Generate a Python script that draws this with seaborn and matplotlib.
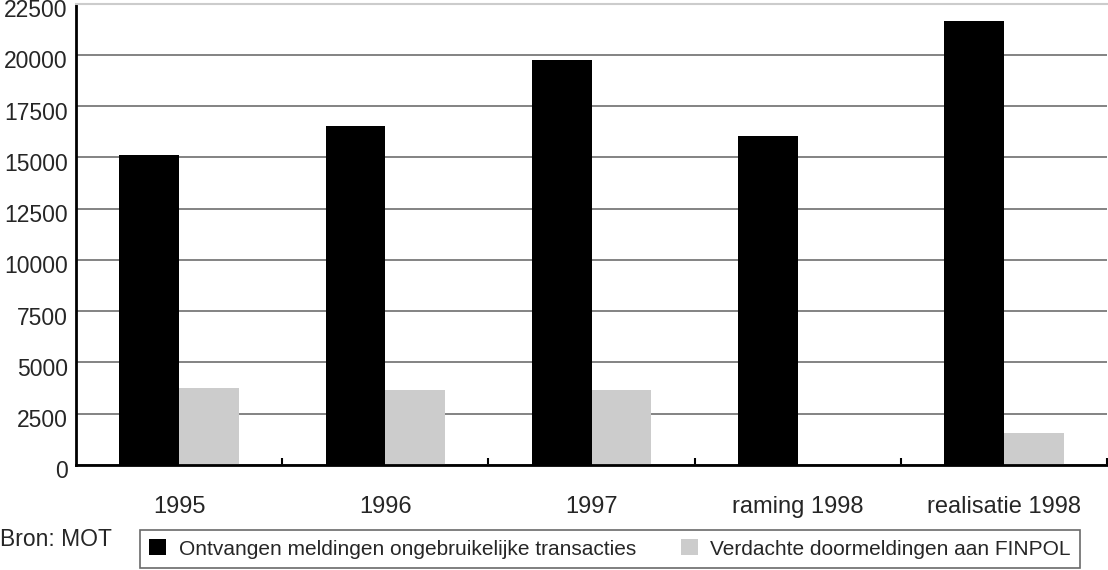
import matplotlib
matplotlib.use("Agg")
import matplotlib.pyplot as plt
import matplotlib.transforms as mtransforms
from matplotlib.ticker import FixedLocator
import seaborn as sns
import pandas as pd

categories = ["1995", "1996", "1997", "raming 1998", "realisatie 1998"]
ontvangen = [15100, 16550, 19750, 16050, 21650]
verdacht = [3730, 3670, 3660, 0, 1550]
series_names = ["Ontvangen meldingen ongebruikelijke transacties",
                "Verdachte doormeldingen aan FINPOL"]
yticks = [0, 2500, 5000, 7500, 10000, 12500, 15000, 17500, 20000, 22500]

df = pd.DataFrame({
    "categorie": categories * 2,
    "waarde": ontvangen + verdacht,
    "reeks": [series_names[0]] * len(categories) + [series_names[1]] * len(categories),
})

sns.set_theme(style="white")
plt.rcParams["font.family"] = ["Liberation Sans", "DejaVu Sans"]

fig = plt.figure(figsize=(11.08, 5.70), dpi=100)
ax = fig.add_axes([76 / 1108, 1 - 465 / 570, 1031 / 1108, 461.5 / 570])

sns.barplot(data=df, x="categorie", y="waarde", hue="reeks",
            palette=["#000000", "#cccccc"], width=0.58, errorbar=None,
            saturation=1, linewidth=0, ax=ax, legend=True)

ax.set_ylim(0, 22500)
ax.set_xlim(-0.5, len(categories) - 0.5)
ax.set_yticks(yticks)
ax.set_yticklabels([str(v) for v in yticks], fontsize=16.5)
ax.tick_params(axis="y", length=0, pad=6)
ax.tick_params(axis="x", which="major", length=0, pad=22, labelsize=17)
ax.xaxis.set_minor_locator(FixedLocator([i + 0.5 for i in range(len(categories))]))
ax.tick_params(axis="x", which="minor", bottom=True, direction="in",
               length=5, width=1.5, color="black")
ax.set_xlabel("")
ax.set_ylabel("")

shift = mtransforms.ScaledTranslation(0, -4.5 / 100, fig.dpi_scale_trans)
for lab in ax.get_yticklabels():
    lab.set_transform(lab.get_transform() + shift)

ax.yaxis.grid(True, color="#7a7a7a", linewidth=1.3)
ax.set_axisbelow(True)

for s in ["left", "bottom"]:
    ax.spines[s].set_color("black")
    ax.spines[s].set_linewidth(2)
ax.spines["right"].set_visible(False)
ax.spines["top"].set_color("#cccccc")
ax.spines["top"].set_linewidth(1.5)

handles, labels = ax.get_legend_handles_labels()
ax.get_legend().remove()
leg = fig.legend(handles, labels, loc="lower left",
                 bbox_to_anchor=(140 / 1108, 2 / 570, 940 / 1108, 41 / 570),
                 mode="expand", ncol=2, fontsize=15, frameon=True, fancybox=False,
                 handlelength=0.8, handleheight=0.8, handletextpad=0.6,
                 columnspacing=1.0, borderaxespad=0, borderpad=0.45)
leg.get_frame().set_edgecolor("#444444")
leg.get_frame().set_linewidth(1.2)

fig.text(0, 1 - 540 / 570, "Bron: MOT", fontsize=16.5, ha="left", va="center")

fig.savefig("out.png", dpi=100)
